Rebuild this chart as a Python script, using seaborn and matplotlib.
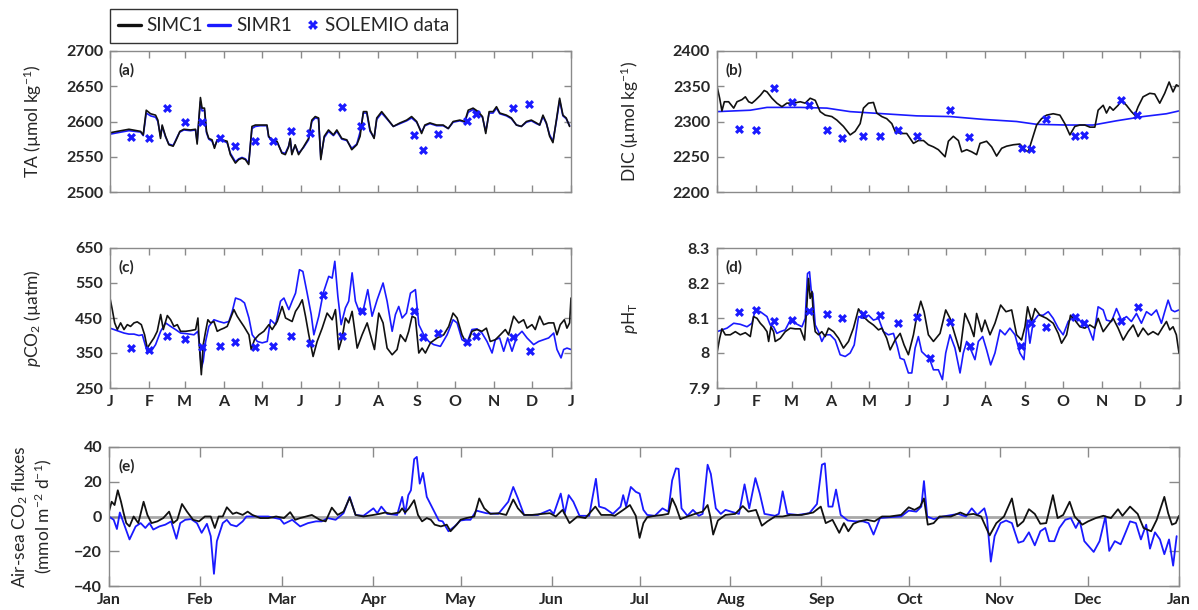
import numpy as np
import pandas as pd
import matplotlib
matplotlib.use("Agg")
import matplotlib.pyplot as plt
from matplotlib.lines import Line2D
from matplotlib.legend_handler import HandlerLine2D
import seaborn as sns

# ---- data (day of year, value) ----
ta_days = [0, 5.8, 15, 24.2, 26.3, 28.7, 32.1, 36.1, 37.9, 40,
           41.3, 44, 46.6, 50, 51.9, 53.7, 55.3, 58.5, 63.7, 67.7,
           69, 70.3, 71.6, 72.9, 74.8, 76.4, 78.2, 80.8, 82.7, 84.8,
           88.7, 92.7, 95.3, 99.3, 101.9, 104.5, 107.2, 109.8, 112.4, 115.1,
           119, 124.3, 125.6, 128.2, 132.2, 136.1, 138.8, 141.4, 142.7, 144,
           146.6, 149.3, 153.2, 157.2, 159.8, 162.5, 165.1, 166.9, 169.6, 173,
           176.9, 179.6, 183.5, 187.5, 191.4, 195.4, 198, 200.6, 203.3, 205.9,
           209.1, 211.2, 215.1, 219.1, 224.3, 229.6, 234.9, 238.8, 242.8, 246.7,
           249.3, 253.3, 258.6, 263.8, 267.8, 271.7, 277, 280.9, 283.6, 287.5,
           291.5, 294.9, 297.5, 300.2, 303.3, 306, 308.6, 313.9, 317.8, 321.8,
           325.7, 329.7, 333.6, 337.6, 340.2, 342.8, 345.5, 348.1, 350.7, 353.4,
           356, 358.6, 361.2, 363.9]
ta_simc1 = [2584, 2586, 2589, 2586, 2581, 2616, 2611, 2609, 2602, 2576,
            2595, 2579, 2567, 2565, 2572, 2579, 2586, 2589, 2588, 2589,
            2568, 2602, 2634, 2619, 2619, 2586, 2576, 2574, 2562, 2574,
            2574, 2572, 2553, 2541, 2546, 2548, 2546, 2539, 2593, 2595,
            2595, 2595, 2579, 2574, 2572, 2555, 2553, 2564, 2576, 2553,
            2567, 2553, 2564, 2576, 2602, 2607, 2605, 2546, 2579, 2588,
            2581, 2588, 2576, 2574, 2560, 2567, 2579, 2614, 2614, 2588,
            2576, 2605, 2614, 2605, 2593, 2598, 2602, 2607, 2600, 2583,
            2595, 2598, 2595, 2595, 2590, 2600, 2602, 2600, 2616, 2619,
            2614, 2607, 2583, 2614, 2614, 2621, 2612, 2609, 2605, 2595,
            2593, 2600, 2602, 2598, 2595, 2609, 2598, 2579, 2570, 2602,
            2633, 2609, 2605, 2593]
ta_simr1 = [2582, 2584, 2587, 2585, 2580, 2612, 2608, 2606, 2600, 2579,
            2593, 2578, 2568, 2566, 2573, 2580, 2585, 2588, 2587, 2588,
            2571, 2600, 2628, 2615, 2616, 2584, 2575, 2572, 2564, 2573,
            2573, 2570, 2555, 2543, 2547, 2549, 2547, 2541, 2590, 2593,
            2594, 2594, 2578, 2573, 2571, 2556, 2555, 2565, 2575, 2555,
            2566, 2555, 2563, 2574, 2600, 2605, 2604, 2549, 2577, 2586,
            2580, 2586, 2575, 2573, 2562, 2568, 2585, 2612, 2612, 2586,
            2577, 2603, 2612, 2604, 2593, 2597, 2601, 2605, 2599, 2585,
            2594, 2597, 2594, 2594, 2590, 2599, 2601, 2599, 2613, 2617,
            2612, 2606, 2586, 2612, 2612, 2619, 2611, 2608, 2604, 2595,
            2593, 2599, 2601, 2597, 2595, 2607, 2597, 2581, 2572, 2600,
            2630, 2608, 2604, 2594]

samp_days = [17, 31, 45, 59, 73, 87, 99, 115, 129, 143, 158, 184, 199, 241, 248, 260, 283, 290, 319, 332]
ta_obs = [2578, 2576, 2619, 2600, 2600, 2576, 2565, 2572, 2572, 2586,
          2583, 2621, 2593, 2581, 2560, 2582, 2601, 2611, 2619, 2625]
dic_obs = [2289, 2288, 2347, 2328, 2323, 2288, 2276, 2280, 2279, 2288,
           2280, 2317, 2278, 2263, 2261, 2304, 2280, 2281, 2331, 2309]

dic_simc1 = [(0, 2350), (2.1, 2333), (3.9, 2315), (5.8, 2328), (9.2, 2328), (13.2, 2319), (15.8, 2328),
             (19.7, 2331), (22.4, 2335), (25, 2328), (27.6, 2326), (30.2, 2330), (34.2, 2337), (37.3, 2344),
             (39.5, 2342), (43.4, 2333), (47.3, 2326), (51.3, 2321), (55.2, 2326), (60.5, 2326), (65.8, 2328),
             (69.7, 2326), (73.6, 2333), (77.6, 2330), (81.5, 2314), (85.5, 2309), (90.7, 2307), (94.7, 2302),
             (99.9, 2293), (105.2, 2281), (109.1, 2286), (113.1, 2297), (115.7, 2319), (119.7, 2326),
             (123.6, 2327), (126.2, 2312), (130.2, 2307), (134.1, 2304), (138.1, 2297), (140.7, 2286),
             (144.7, 2283), (149.9, 2283), (155.2, 2269), (159.1, 2273), (163.1, 2273), (167, 2267),
             (171, 2264), (174.9, 2260), (180.2, 2250), (182.8, 2272), (186.7, 2279), (190.7, 2273),
             (193.3, 2257), (197.3, 2260), (201.2, 2257), (205.1, 2253), (207.8, 2269), (213, 2272),
             (217, 2264), (220.9, 2251), (224.9, 2262), (228.8, 2265), (234.1, 2267), (239.3, 2268),
             (243.3, 2260), (245.9, 2257), (248.5, 2272), (252.5, 2295), (256.4, 2304), (260.4, 2309),
             (265.6, 2311), (270.9, 2309), (274.8, 2297), (278.8, 2281), (282.7, 2293), (286.7, 2295),
             (290.6, 2295), (294.6, 2292), (298.5, 2292), (301.1, 2316), (305.1, 2323), (307.7, 2312),
             (310.3, 2321), (313, 2316), (316.9, 2323), (319.5, 2330), (323.5, 2323), (327.4, 2314),
             (330.1, 2309), (332.7, 2321), (336.6, 2335), (341.9, 2340), (345.8, 2339), (349.8, 2326),
             (353.7, 2340), (357.2, 2356), (360.3, 2342), (362.9, 2352), (365, 2350)]
dic_simr1 = [(0, 2314), (26.3, 2316), (39.5, 2320), (65.8, 2320), (86.8, 2319), (105.2, 2314),
             (131.5, 2311), (157.8, 2308), (184.1, 2307), (210.4, 2303), (236.7, 2300), (252.5, 2296),
             (276.2, 2295), (297.2, 2295), (315.6, 2301), (336.6, 2307), (355.1, 2311), (365, 2315)]

carb_days = [17, 31, 45, 59, 73, 87, 99, 115, 129, 143, 158, 168.5, 184, 199.5, 240.5, 248, 260, 283, 290, 319, 332.5]
pco2_obs = [364, 358, 398, 391, 366, 369, 381, 366, 371, 400, 379, 517, 398, 471, 471, 395, 407, 381, 398, 395, 355]
ph_obs = [8.118, 8.123, 8.091, 8.094, 8.120, 8.111, 8.099, 8.112, 8.110, 8.085, 8.104,
          7.985, 8.090, 8.020, 8.020, 8.085, 8.075, 8.104, 8.085, 8.092, 8.130]

pco2_simc1 = [(0, 507), (1.8, 474), (3.7, 436), (5.8, 417), (8.4, 436), (11.1, 417), (13.7, 431), (16.3, 426),
              (19, 436), (21.6, 439), (24.8, 431), (27.4, 402), (29.5, 364), (32.2, 379), (34.8, 393),
              (37.4, 412), (40.1, 460), (42.2, 417), (45.4, 457), (48, 445), (50.6, 426), (53.3, 431),
              (55.9, 412), (59.9, 412), (63.8, 414), (67.8, 417), (69.6, 450), (70.9, 364), (72.3, 288),
              (73.8, 374), (75.7, 412), (77.5, 445), (79.6, 436), (82.3, 440), (84.9, 412), (87.5, 417),
              (90.2, 421), (92.8, 426), (95.5, 450), (98.1, 474), (100.7, 455), (103.4, 440), (106, 426),
              (110, 402), (111.8, 360), (114.4, 388), (117.9, 402), (121.8, 412), (125.8, 431), (128.4, 417),
              (132.4, 440), (136.3, 483), (139, 450), (141.6, 445), (144.2, 440), (146.9, 469), (149.5, 483),
              (152.2, 502), (154.8, 455), (157.4, 402), (160.8, 340), (164, 383), (168, 421), (171.9, 464),
              (175.9, 445), (178.5, 474), (181.1, 360), (183.8, 393), (186.4, 450), (189, 436), (191.7, 469),
              (195.7, 364), (199.6, 402), (203.6, 436), (206.2, 402), (209.4, 360), (212.8, 464), (216.2, 436),
              (219.4, 364), (223.4, 345), (227.3, 360), (229.9, 402), (233.9, 383), (236.5, 412), (239.2, 455),
              (241.8, 450), (244.5, 350), (247.1, 364), (249.7, 350), (253.7, 379), (259, 393), (264.2, 402),
              (268.2, 426), (271.6, 464), (274.8, 450), (278.7, 402), (282.7, 374), (286.6, 412), (290.6, 417),
              (294.5, 412), (298, 421), (301.1, 383), (305.1, 388), (309, 402), (313, 417), (315.6, 402),
              (319.6, 455), (323.6, 436), (327.5, 445), (330.2, 421), (334.1, 431), (336.7, 417), (340.2, 455),
              (343.3, 431), (347.3, 436), (351.3, 436), (353.9, 402), (356.5, 431), (359.7, 445), (361.8, 421),
              (363.9, 436), (365, 507)]
pco2_simr1 = [(0, 421), (3.2, 417), (7.1, 412), (11.1, 407), (15, 404), (19, 404), (22.9, 400), (25.6, 402),
              (29.5, 353), (32.2, 353), (36.1, 374), (40.1, 412), (44, 436), (48, 426), (51.9, 417), (55.9, 407),
              (61.2, 405), (66.5, 402), (69.6, 412), (71.2, 360), (72.3, 307), (73.8, 326), (75.7, 383),
              (78.3, 426), (82.3, 445), (86.2, 440), (90.2, 436), (94.1, 440), (96.8, 469), (99.4, 507),
              (103.4, 502), (106.5, 493), (110, 450), (112.6, 402), (116.6, 383), (120.5, 379), (124.5, 383),
              (127.1, 445), (131.1, 431), (135, 498), (137.7, 507), (141.6, 474), (144.2, 498), (146.9, 521),
              (150, 588), (152.7, 583), (156.1, 521), (159.3, 460), (161.4, 402), (165.3, 455), (168.8, 521),
              (173.2, 569), (175.9, 564), (178, 612), (180.4, 512), (183, 431), (186.4, 479), (189, 498),
              (191.7, 579), (194.3, 498), (197.8, 464), (200.9, 479), (204.1, 531), (207.5, 455), (211.5, 502),
              (216.2, 550), (219.4, 498), (223.4, 412), (226, 460), (228.6, 483), (231.3, 450), (234.7, 464),
              (237.9, 521), (241.8, 531), (244.5, 431), (248.4, 402), (252.4, 383), (256.3, 374), (261.6, 369),
              (266.9, 402), (271.6, 445), (274.8, 436), (278.7, 388), (282.7, 379), (286.6, 417), (290.6, 419),
              (294.5, 407), (298.5, 383), (302.5, 350), (305.1, 388), (308.5, 393), (311.7, 355), (314.9, 393),
              (318.3, 355), (322.2, 398), (326.2, 412), (330.2, 393), (335.4, 374), (339.4, 383), (343.3, 388),
              (347.3, 393), (351.3, 407), (353.9, 360), (357.1, 336), (359.2, 360), (361.8, 364), (365, 360)]

ph_simc1 = [(0, 8.000), (2.1, 8.042), (3.9, 8.069), (6.6, 8.052), (10.5, 8.052), (14.5, 8.061), (18.4, 8.052),
            (22.4, 8.058), (26.3, 8.047), (28.9, 8.104), (31.6, 8.099), (34.2, 8.085), (36.8, 8.075),
            (39.5, 8.061), (40.8, 8.033), (42.6, 8.075), (44.7, 8.061), (46, 8.033), (50, 8.042), (53.9, 8.061),
            (57.9, 8.071), (61.8, 8.069), (65.8, 8.069), (69.2, 8.037), (71, 8.137), (72.3, 8.213),
            (73.6, 8.156), (75, 8.175), (76.3, 8.099), (77.6, 8.061), (80.2, 8.052), (82.8, 8.061),
            (85.5, 8.047), (88.1, 8.071), (92.1, 8.061), (96, 8.042), (99.9, 8.014), (103.9, 8.033),
            (107.8, 8.071), (111.8, 8.126), (115.7, 8.104), (119.7, 8.090), (123.6, 8.080), (127.6, 8.066),
            (130.2, 8.071), (134.1, 8.042), (136.8, 8.009), (140.7, 8.037), (144.7, 8.056), (147.8, 8.023),
            (151.2, 7.995), (155.2, 8.052), (157.8, 8.104), (161, 8.148), (163.6, 8.118), (167, 8.052),
            (171, 8.033), (176.2, 8.056), (180.7, 8.123), (184.1, 8.099), (188, 8.052), (192, 8.004),
            (195.9, 8.113), (199.9, 8.080), (203, 8.047), (205.1, 8.113), (209.1, 8.061), (211.7, 8.094),
            (215.7, 8.052), (219.6, 8.085), (224.1, 8.137), (228.3, 8.118), (232.8, 8.123), (236.7, 8.052),
            (240.6, 8.037), (243.3, 8.075), (245.4, 8.132), (248.5, 8.090), (251.2, 8.127), (255.1, 8.108),
            (260.4, 8.099), (265.6, 8.085), (269.6, 8.056), (272.2, 8.028), (276.2, 8.052), (279.3, 8.108),
            (282.7, 8.094), (286.7, 8.075), (290.6, 8.071), (294.6, 8.080), (298.5, 8.071), (301.1, 8.099),
            (305.1, 8.061), (309, 8.080), (313, 8.099), (316.9, 8.071), (320.9, 8.037), (324.8, 8.061),
            (328.8, 8.080), (332.7, 8.047), (336.6, 8.071), (340.6, 8.052), (344.5, 8.061), (348.5, 8.052),
            (352.4, 8.075), (355.1, 8.090), (357.7, 8.066), (360.3, 8.075), (362.9, 8.052), (365, 8.000)]
ph_simr1 = [(0, 8.061), (3.9, 8.066), (7.9, 8.071), (13.2, 8.085), (18.4, 8.082), (23.7, 8.075), (27.6, 8.085),
            (30.2, 8.123), (34.2, 8.118), (39.5, 8.104), (42.1, 8.080), (44.7, 8.075), (47.3, 8.056),
            (50, 8.061), (53.9, 8.066), (57.9, 8.094), (61.8, 8.085), (67.1, 8.075), (69.7, 8.099),
            (71.5, 8.227), (73.1, 8.232), (74.4, 8.180), (75.7, 8.170), (77.6, 8.080), (80.2, 8.061),
            (82.8, 8.033), (85.5, 8.052), (89.4, 8.052), (93.4, 8.037), (97.3, 7.995), (101.3, 7.990),
            (105.2, 8.000), (108.4, 8.023), (111.8, 8.104), (115.7, 8.099), (119.7, 8.108), (123.6, 8.094),
            (127.6, 8.099), (131.5, 8.061), (135.4, 8.052), (139.4, 8.056), (142.5, 8.018), (144.7, 7.985),
            (147.8, 7.981), (151.2, 7.943), (153.9, 7.943), (156.5, 8.014), (159.1, 8.047), (161.7, 8.004),
            (165.7, 7.990), (167.8, 7.985), (171, 7.952), (174.9, 7.952), (178.1, 7.924), (180.7, 8.000),
            (184.1, 8.052), (188, 8.014), (192, 7.943), (194.6, 8.000), (197.3, 8.033), (201.2, 8.004),
            (203.8, 7.981), (206.5, 8.033), (209.9, 8.047), (213, 8.009), (216.2, 7.966), (219.6, 8.000),
            (223.6, 8.066), (227.5, 8.052), (231.4, 8.071), (235.4, 8.052), (239.3, 8.000), (242.5, 7.981),
            (245.1, 8.094), (247.2, 8.028), (249.9, 8.090), (253.8, 8.108), (257.7, 8.108), (261.7, 8.118),
            (265.6, 8.099), (269.6, 8.071), (273.5, 8.052), (277.5, 8.090), (281.4, 8.104), (285.4, 8.099),
            (289.3, 8.080), (293.2, 8.075), (297.2, 8.037), (301.1, 8.132), (305.1, 8.123), (307.7, 8.094),
            (311.7, 8.090), (315.6, 8.127), (319.5, 8.094), (323.5, 8.104), (327.4, 8.090), (331.4, 8.113),
            (335.3, 8.085), (339.3, 8.118), (343.2, 8.108), (347.2, 8.123), (351.1, 8.085), (353.7, 8.118),
            (356.4, 8.151), (359, 8.123), (361.6, 8.118), (365, 8.123)]

flux_simc1 = [(0, 2.8), (0.9, 8.5), (1.9, 6.6), (3, 15.1), (4.1, 8.5), (5, 1.9), (5.9, -3.8), (7, -5.7),
              (8.4, 0), (10, -3.8), (11.8, 8.5), (13.1, 0.9), (14.5, -3.8), (16.5, -2.8), (18.5, -0.9),
              (20.5, 2.8), (21.9, -3.8), (23.3, -1.9), (24.9, 7.2), (26.6, 2.8), (28.7, -1.9), (30.7, -2.8),
              (32.7, 0), (34.7, 0), (36.1, -6.6), (37.4, 0), (38.8, 0), (40.2, 5.3), (42.2, 1.5), (43.5, 2.3),
              (45.6, 0.9), (47.3, 2.8), (48.9, 0.9), (51.6, -0.9), (54.3, -0.9), (57, 0), (59.7, -0.9),
              (61.8, 2.5), (63.5, -1.9), (65.2, -0.9), (69.2, 0.9), (71.9, -1.9), (73.9, -2.8), (76, 5.1),
              (78, 0.9), (80, 2.8), (82.1, 10.8), (84.1, 0.9), (86.8, 0), (90.2, 0.9), (92.2, 1.5), (94.2, 2.3),
              (96.3, 1.5), (99, 2.3), (100, 4.7), (101, 2.3), (102.3, 4.7), (104.1, 9.4), (105.4, 0.9),
              (106.8, -2.8), (108.4, -0.9), (109.8, -1.9), (111.1, -4.7), (113.2, -5.7), (115.2, -4.7),
              (116.5, -8.5), (118.6, -4.7), (119.9, -1.9), (121.9, -0.9), (124.6, 0), (126.3, 10.4), (128, 4.7),
              (130.1, 1.5), (132.8, 1.9), (135.5, 0.9), (137.9, 9.8), (139.5, 4.7), (141.6, 0.9), (144.3, 0.9),
              (147.7, 1.5), (150.4, 1.9), (152.4, 0), (154.7, 3.8), (157.1, -3.8), (159.8, 0), (162.5, -0.9),
              (165.9, 5.7), (167.9, 0.9), (171.3, 0.9), (172.5, 0.4), (175.1, 3.4), (177.7, 6.6), (179.7, 0.4),
              (181, -12.3), (182.3, -3.8), (183.6, -0.4), (186.2, 0.4), (188.8, 0.9), (190.8, 1.5), (192.1, 10.4),
              (193.4, 5.7), (194.9, -1.5), (197.3, 0), (199.9, 1.5), (202.5, 2.8), (204.2, 6.6), (205.1, 0),
              (206.1, -10.4), (207.7, -2.3), (210.3, 0.9), (213.6, 1.5), (216.2, 6), (218.1, 2.8), (220.7, 3.8),
              (222.7, -5.3), (224.6, -2.8), (227.2, 0), (229.8, 0), (232.4, 0.9), (236.3, 0.9), (240.2, 2.3),
              (242.8, 5.7), (244.5, -3.8), (246.8, -1.9), (249.1, -9.4), (250.7, -3.8), (252.2, -8.5),
              (253.9, -4.2), (255.9, -2.8), (258.5, -1.9), (261.1, -2.8), (263.7, 0), (266.3, 0), (270.2, 0.9),
              (272.8, 5.3), (274.8, 3.8), (276.7, 5.7), (278, 10.4), (279.3, -4.7), (281.3, -3.8), (283.3, 0),
              (287.2, 0), (290.4, 2.3), (292.3, 0.9), (294.9, 1.5), (297.5, 0), (300.4, -10.9), (302.7, -3.8),
              (305.3, 0), (308, 10.4), (309.9, -5.7), (311.9, -2.8), (313.8, 4.2), (315.8, 1.5), (317.7, -4.2),
              (319.7, -3.8), (322, 12.3), (323.6, -0.9), (325.5, 0.9), (327.7, 8.5), (329.4, 0), (332, -4.7),
              (334, -2.8), (336.6, -0.9), (339.2, 0.4), (341.8, -0.9), (344.2, 4.2), (345.7, 0.4), (348.3, 5.7),
              (350.9, 1.5), (352.9, -6.6), (355.5, -8.5), (357.4, -1.9), (360, 11.3), (361.3, 1.9),
              (362.6, -4.7), (363.9, -3.8), (365, 0.4)]
flux_simr1 = [(0, 0), (1.6, -1.9), (2.7, -7.2), (3.7, 2.3), (5, -3.8), (7, -13.2), (9.1, -5.7), (10.8, -3.8),
              (12.4, -6.6), (13.8, -3.8), (15.1, -7.5), (17.2, -5.7), (19.2, -4.7), (21.2, -2.8), (23, -12.8),
              (24.3, -3.8), (26, -1.9), (28, -1.5), (30, -3.8), (31.6, -9.4), (33.4, -4.2), (34.7, -11.3),
              (35.8, -33), (36.8, -14.2), (38.8, -3.8), (40.2, -1.9), (41.5, -4.7), (43.5, -5.7), (45.6, -2.8),
              (46.9, 0), (50.3, 0), (54.3, 0), (58.4, -1.5), (59.7, -4.2), (62.5, -1.9), (65.2, -5.7),
              (67.9, -3.8), (70.6, -2.8), (72.6, -2.8), (74.6, -0.9), (77.3, -1.9), (80, 1.9), (82.1, 11.3),
              (84.1, 0.9), (86.8, 0.4), (90.2, 4.7), (91.5, 1.9), (92.9, 5.7), (94.9, 1.5), (98.3, 0.9),
              (100, 11.3), (101, 1.5), (102.1, 12.3), (103, 15.1), (104.1, 33), (105, 34.3), (106, 18.9),
              (107.1, 25.1), (108.4, 11.3), (110.4, 4.7), (112.5, -2.3), (113.8, -2.8), (115.8, -8.5),
              (117.9, -5.7), (119.9, -2.3), (121.7, -1.9), (123.3, -1.9), (125.3, 3.4), (128.7, 1.9),
              (132.8, 1.5), (136.2, 8.5), (137.9, 17), (139.5, 10.4), (141.6, 0.9), (146.3, 0.9), (150.4, 3.8),
              (151.7, 1.5), (154.1, 13.2), (155.4, 1.5), (156.8, 12.3), (158.4, 8.5), (160.5, 0.4), (163.8, 0.4),
              (166.1, 21.7), (167.2, 5.7), (169.2, 4.7), (171.9, 1.5), (174.5, 5.7), (175.4, 12.3), (176.4, 5.7),
              (178, 17), (179.7, 14.2), (181, 13.2), (182.3, 3.8), (183.6, 0.9), (186.2, 0.4), (188.8, 4.7),
              (190.8, 2.8), (192.1, 20.8), (193.4, 27.7), (194.3, 27.4), (195.3, 4.7), (197.3, 0.4),
              (199.2, 3.8), (201.2, 0.4), (202.5, 1.5), (204.2, 29.8), (205.3, 24.5), (207, 4.7), (208.7, 1.5),
              (210.3, 3.8), (212.2, 2.8), (214.9, 1.5), (216.8, 18.5), (218.4, 4.7), (220.5, 22.1), (222, 13.2),
              (223.6, 1.5), (227.2, 0.4), (228.5, 1.5), (229.8, 14.5), (231.4, 1.5), (235, 0.9), (238.9, 1.9),
              (241.5, 7.2), (243.2, 29.8), (244.2, 30.6), (245.4, 5.7), (246.8, 5.7), (248, 15.5), (249.6, 0.9),
              (252, -2.3), (254.6, -2.8), (257.2, -2.8), (259.1, -3.8), (260.8, -10.4), (263, -0.9),
              (266.3, -0.4), (270.2, 0), (272.8, 3.4), (275.4, 2.8), (277.1, 5.7), (278, 20.4), (279.1, 0),
              (281.3, -1.5), (284.5, 0), (289.7, 1.5), (292.3, 0), (294.3, 4.7), (296.2, 0.9), (298.6, 4.7),
              (299.5, -0.9), (300.8, -26), (302.1, -11.3), (304.1, -3.8), (306, -2.3), (308, -3.8),
              (310.2, -15.1), (311.9, -14.2), (313.8, -9.1), (315.8, -16.6), (317.7, -8.5), (319.4, -6.6),
              (320.7, -14.2), (322.5, -14.2), (324.2, -6.6), (326.2, -1.9), (328.1, -0.9), (329.8, -6.6),
              (331.1, -2.3), (332.7, -14.2), (335.9, -20.4), (337.9, -14.2), (339.9, 0), (341.2, -19.8),
              (343.1, -14.2), (345.1, -16), (346.8, -9.1), (348.3, -2.8), (350.3, -3.8), (352, -13.2),
              (353.8, -4.7), (355.1, -18.5), (356.8, -9.1), (358.5, -13.2), (360, -21.7), (361.6, -13.2),
              (363, -28.3), (364.2, -11.3)]

month_starts = [0, 31, 59, 90, 120, 151, 181, 212, 243, 273, 304, 334, 365]
month_short = ['J', 'F', 'M', 'A', 'M', 'J', 'J', 'A', 'S', 'O', 'N', 'D', 'J']
month_names = ['Jan', 'Feb', 'Mar', 'Apr', 'May', 'Jun', 'Jul', 'Aug', 'Sep', 'Oct', 'Nov', 'Dec', 'Jan']

BLACK = '#111111'
BLUE = '#1a1aff'
GRAY = '#8a8a8a'

sns.set_theme(style='ticks')
plt.rcParams['font.family'] = ['Lato', 'DejaVu Sans']
plt.rcParams['mathtext.fontset'] = 'custom'
plt.rcParams['mathtext.rm'] = 'Lato'
plt.rcParams['mathtext.it'] = 'Lato:italic'
plt.rcParams['mathtext.bf'] = 'Lato:bold'

fig = plt.figure(figsize=(11.98, 6.10), dpi=100)
W, H = 1198, 610


def rect(l, t, r, b):
    return [l / W, 1 - b / H, (r - l) / W, (b - t) / H]


ax_a = fig.add_axes(rect(110, 51, 571, 192))
ax_b = fig.add_axes(rect(717, 51, 1179, 192))
ax_c = fig.add_axes(rect(110, 248, 571, 388))
ax_d = fig.add_axes(rect(717, 248, 1179, 388))
ax_e = fig.add_axes(rect(109, 447, 1179, 586))


def unzip(pairs):
    return [p[0] for p in pairs], [p[1] for p in pairs]


def draw_pair(ax, c1, r1, obs_x=None, obs_y=None, lw=1.2):
    sns.lineplot(x=r1[0], y=r1[1], ax=ax, color=BLUE, linewidth=lw, legend=False)
    sns.lineplot(x=c1[0], y=c1[1], ax=ax, color=BLACK, linewidth=lw, legend=False)
    if obs_x is not None:
        sns.scatterplot(x=obs_x, y=obs_y, ax=ax, marker='X', s=42, color=BLUE,
                        linewidth=0, zorder=5, legend=False)


draw_pair(ax_a, (ta_days, ta_simc1), (ta_days, ta_simr1), samp_days, ta_obs)
draw_pair(ax_b, unzip(dic_simc1), unzip(dic_simr1), samp_days, dic_obs)
draw_pair(ax_c, unzip(pco2_simc1), unzip(pco2_simr1), carb_days, pco2_obs)
draw_pair(ax_d, unzip(ph_simc1), unzip(ph_simr1), carb_days, ph_obs)
ax_e.axhline(0, color='#a8a8a8', linewidth=2, zorder=0)
draw_pair(ax_e, unzip(flux_simc1), unzip(flux_simr1), lw=1.3)

panels = [
    (ax_a, '(a)', (2500, 2700), np.arange(2500, 2701, 50), None, 'TA (µmol kg$^{-1}$)', -0.143),
    (ax_b, '(b)', (2200, 2400), np.arange(2200, 2401, 50), None, 'DIC (µmol kg$^{-1}$)', -0.165),
    (ax_c, '(c)', (250, 650), np.arange(250, 651, 100), month_short, '$\\mathit{p}$CO$_2$ (µatm)', -0.145),
    (ax_d, '(d)', (7.9, 8.3), [7.9, 8.0, 8.1, 8.2, 8.3], month_short, '$\\mathit{p}$H$_\\mathrm{T}$', -0.167),
    (ax_e, '(e)', (-40, 40), np.arange(-40, 41, 20), month_names,
     'Air-sea CO$_2$ fluxes\n(mmol m$^{-2}$ d$^{-1}$)', -0.051),
]
ytick_text = {ax_d: ['7.9', '8', '8.1', '8.2', '8.3']}

for ax, tag, ylim, yticks, xlabels, ylabel, lx in panels:
    ax.set_xlim(0, 365)
    ax.set_ylim(*ylim)
    ax.set_xticks(month_starts)
    ax.set_yticks(yticks)
    if ax in ytick_text:
        ax.set_yticklabels(ytick_text[ax])
    if xlabels is None:
        ax.set_xticklabels([])
    else:
        ax.set_xticklabels(xlabels)
    ax.set_xlabel('')
    for s in ax.spines.values():
        s.set_visible(True)
        s.set_color(GRAY)
        s.set_linewidth(1.0)
    tl = 7 if ax is ax_e else 5
    ax.tick_params(axis='both', direction='in', length=tl, width=1, color=GRAY,
                   top=True, right=True, labelsize=11.5, pad=5)
    for lab in ax.get_xticklabels() + ax.get_yticklabels():
        lab.set_fontweight('bold')
    ax.set_ylabel(ylabel, fontsize=12.5, linespacing=1.15)
    ax.yaxis.set_label_coords(lx, 0.5)
    ax.text(0.018 if ax is not ax_e else 0.009, 0.86, tag, transform=ax.transAxes,
            fontsize=11, fontweight='bold', ha='left', va='center')
    ax.grid(False)


class MarkerRight(HandlerLine2D):
    # put the single marker near the text, like the reference legend
    def get_xdata(self, legend, xdescent, ydescent, width, height, fontsize):
        x = [width - 0.35 * fontsize]
        return x, x


handles = [Line2D([], [], color=BLACK, linewidth=2.4),
           Line2D([], [], color=BLUE, linewidth=2.4),
           Line2D([], [], color=BLUE, marker='X', markersize=7, linestyle='none', markeredgewidth=0)]
leg = fig.legend(handles, ['SIMC1', 'SIMR1', 'SOLEMIO data'], loc='upper left',
                 bbox_to_anchor=(110 / W, 1 - 9 / H), ncol=3, frameon=True, fancybox=False,
                 fontsize=13.5, handlelength=1.2, handletextpad=0.3, columnspacing=0.25,
                 borderpad=0.45, borderaxespad=0, handler_map={handles[2]: MarkerRight(numpoints=1)})
leg.get_frame().set_edgecolor('black')
leg.get_frame().set_linewidth(1.0)

fig.savefig('out.png', dpi=100)
